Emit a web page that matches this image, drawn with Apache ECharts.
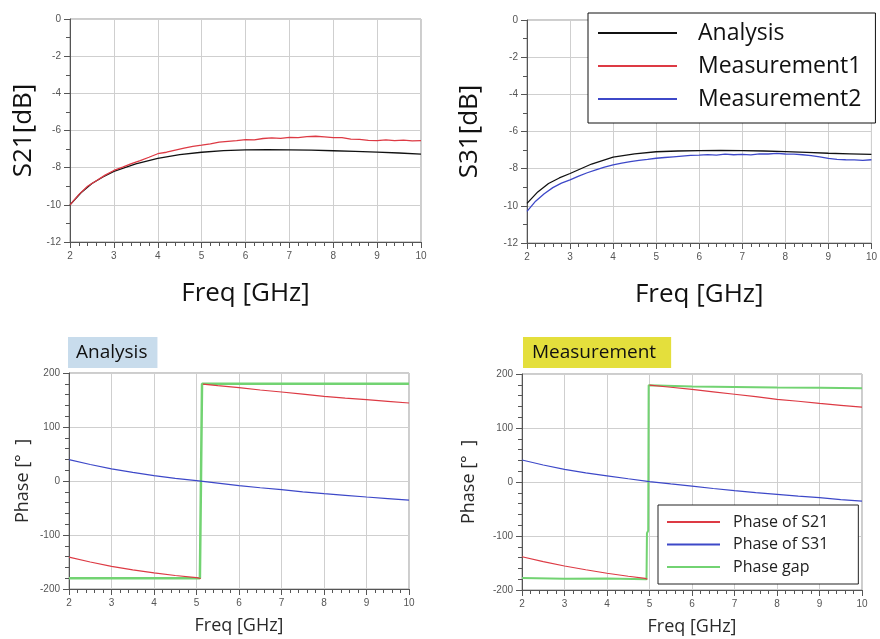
<!DOCTYPE html>
<html><head><meta charset="utf-8">
<script src="https://cdn.jsdelivr.net/npm/echarts@6.0.0/dist/echarts.min.js"></script>
<style>html,body{margin:0;padding:0;background:#fff}#c{width:880px;height:639px}</style>
</head><body><div id="c"></div>
<script>
// ---- data ----
const freqAna = [2,2.25,2.5,2.75,3,3.5,4,4.5,5,5.5,6,6.5,7,7.5,8,8.5,9,9.5,10];
const s21Analysis = [-10.0,-9.35,-8.85,-8.5,-8.2,-7.8,-7.5,-7.3,-7.17,-7.08,-7.04,-7.03,-7.04,-7.06,-7.09,-7.12,-7.16,-7.21,-7.27];
const s31Analysis = [-9.87,-9.25,-8.8,-8.5,-8.26,-7.75,-7.38,-7.2,-7.09,-7.05,-7.03,-7.02,-7.03,-7.05,-7.08,-7.12,-7.17,-7.2,-7.23];
const freqMeas = [2,2.2,2.4,2.6,2.8,3,3.2,3.4,3.6,3.8,4,4.2,4.4,4.6,4.8,5,5.2,5.4,5.6,5.8,6,6.2,6.4,6.6,6.8,7,7.2,7.4,7.6,7.8,8,8.2,8.4,8.6,8.8,9,9.2,9.4,9.6,9.8,10];
const s21Meas1 = [-10.0,-9.45,-9.0,-8.7,-8.4,-8.15,-7.97,-7.78,-7.62,-7.44,-7.25,-7.17,-7.05,-6.95,-6.85,-6.79,-6.72,-6.63,-6.58,-6.55,-6.49,-6.5,-6.43,-6.4,-6.42,-6.37,-6.38,-6.33,-6.31,-6.34,-6.38,-6.38,-6.46,-6.48,-6.53,-6.55,-6.5,-6.55,-6.52,-6.56,-6.55];
const s31Meas2 = [-10.3,-9.75,-9.35,-9.02,-8.78,-8.6,-8.4,-8.22,-8.06,-7.92,-7.8,-7.7,-7.62,-7.55,-7.5,-7.44,-7.4,-7.36,-7.32,-7.29,-7.27,-7.24,-7.27,-7.22,-7.25,-7.23,-7.26,-7.2,-7.21,-7.18,-7.21,-7.22,-7.25,-7.3,-7.37,-7.45,-7.5,-7.52,-7.53,-7.55,-7.52];

const freqPh = [2,2.5,3,3.5,4,4.5,5,5.5,6,6.5,7,7.5,8,8.5,9,9.5,10];
// Analysis phase
const anaS21Low = [[2,-141],[2.5,-150],[3,-158],[3.5,-164.5],[4,-170],[4.5,-175],[5,-179],[5.1,-180.5]];
const anaS21High = [[5.15,179.5],[5.5,176.5],[6,173],[6.5,168.5],[7,164.8],[7.5,160.8],[8,156.8],[8.5,153.5],[9,150.6],[9.5,147.5],[10,144.4]];
const anaS31 = [39.5,30.5,22.5,16,10,5,0.6,-4,-8.5,-12.5,-16,-20,-23.5,-26.5,-29.6,-32.5,-35.5];
const anaGap = [[2,-180],[5.08,-180],[5.13,180],[10,180]];
// Measurement phase
const measS21Low = [[2,-138.5],[2.5,-147.5],[3,-155.5],[3.5,-162.5],[4,-169],[4.5,-174.5],[4.9,-178.5],[4.95,-180]];
const measS21High = [[5.0,179.5],[5.5,175.5],[6,171.5],[6.5,167],[7,162.5],[7.5,158],[8,153],[8.5,149.5],[9,145.5],[9.5,142],[10,138.5]];
const measS31 = [40.7,31.5,23.5,17,11.5,6,0.8,-3.5,-7.5,-12,-16,-19.5,-22.8,-26,-29,-32.5,-35.5];
const measGap = [[2,-178],[3,-179],[4,-178.5],[4.93,-180],[4.94,-95],[4.97,-90],[4.98,179],[6,177],[7,176],[8,175],[9,174.5],[10,173.5]];

const topTicks = {min:-12, max:0, interval:2};
const phTicks = {min:-200, max:200, interval:100};

// ---- chart ----
const chart = echarts.init(document.getElementById('c'), null, {renderer:'canvas'});
const FONT = '"Open Sans", "Noto Sans", sans-serif';
const lbl = {color:'#555', fontSize:10, fontFamily:'"Liberation Sans", Arial, sans-serif'};
function xAx(gi, gap, nameSize, nameColor) {
  return {type:'value', gridIndex:gi, min:2, max:10, interval:1,
    name:'Freq [GHz]', nameLocation:'middle', nameGap:gap,
    nameTextStyle:{fontSize:nameSize, color:nameColor, fontFamily:FONT},
    axisLine:{show:true, onZero:false, lineStyle:{color:'#555'}},
    axisTick:{show:true, length:6, lineStyle:{color:'#555'}},
    minorTick:{show:true, splitNumber:5, length:4, lineStyle:{color:'#555', width:1}},
    axisLabel:{...lbl, margin:9},
    splitLine:{show:true, lineStyle:{color:'#cfcfcf'}}};
}
function yAx(gi, t, name, gap, nameSize, minorN, nameColor) {
  return {type:'value', gridIndex:gi, min:t.min, max:t.max, interval:t.interval,
    name:name, nameLocation:'middle', nameGap:gap, nameRotate:90,
    nameTextStyle:{fontSize:nameSize, color:nameColor, fontFamily:FONT},
    axisLine:{show:true, onZero:false, lineStyle:{color:'#555'}},
    axisTick:{show:true, length:6, lineStyle:{color:'#555'}},
    minorTick:{show:true, splitNumber:minorN, length:4, lineStyle:{color:'#555', width:1}},
    axisLabel:{...lbl, margin:9},
    splitLine:{show:true, lineStyle:{color:'#cfcfcf'}}};
}
const zip = (xs, ys) => xs.map((x,i)=>[x, ys[i]]);
function line(name, xi, data, color, w, z) {
  return {type:'line', name:name, xAxisIndex:xi, yAxisIndex:xi, data:data, showSymbol:false,
    symbol:'none', lineStyle:{color:color, width:w}, itemStyle:{color:color}, z:z||2, animation:false, silent:true};
}
const RED='#dd3a44', BLUE='#3d48c8', GREEN='#72d372', BLACK='#111';

const gridBase = {show:true, borderColor:'#9a9a9a', borderWidth:1, backgroundColor:'#fff'};
chart.setOption({
  animation:false,
  backgroundColor:'#fff',
  title:[
    {text:'Analysis', left:68, top:337, backgroundColor:'#c8dcec', padding:[6,10,6,8],
     textStyle:{fontSize:19, fontWeight:'normal', color:'#111', fontFamily:FONT}},
    {text:'Measurement', left:523, top:337, backgroundColor:'#e4df3c', padding:[6,15,6,9],
     textStyle:{fontSize:19, fontWeight:'normal', color:'#111', fontFamily:FONT}}
  ],
  grid:[
    {...gridBase, left:70, top:19, width:351, height:223},
    {...gridBase, left:527, top:20, width:350, height:223},
    {...gridBase, left:69, top:373, width:340, height:216},
    {...gridBase, left:522, top:374, width:340, height:216}
  ],
  xAxis:[xAx(0,39,26,'#111'), xAx(1,39,26,'#111'), xAx(2,28,18,'#2a2a2a'), xAx(3,28,18,'#2a2a2a')],
  yAxis:[yAx(0,topTicks,'S21[dB]',33,26,2,'#111'), yAx(1,topTicks,'S31[dB]',44,26,2,'#111'),
         yAx(2,phTicks,'Phase [°  ]',37,18,5,'#2a2a2a'), yAx(3,phTicks,'Phase [°  ]',44,18,5,'#2a2a2a')],
  legend:[
    {data:['Analysis','Measurement1','Measurement2'], orient:'vertical', left:588, top:13,
     backgroundColor:'#fff', borderColor:'#111', borderWidth:1, padding:[7,14,11,10],
     itemWidth:79, itemHeight:2, itemGap:7, icon:'rect', selectedMode:false,
     textStyle:{fontSize:23, color:'#111', fontFamily:FONT, lineHeight:26, padding:[0,0,0,16]}},
    {data:['Phase of S21','Phase of S31','Phase gap'], orient:'vertical', left:658, top:505,
     backgroundColor:'#fff', borderColor:'#222', borderWidth:1, padding:[7,30,7,9],
     itemWidth:53, itemHeight:2, itemGap:2.5, icon:'rect', selectedMode:false,
     textStyle:{fontSize:16, color:'#222', fontFamily:FONT, lineHeight:20, padding:[0,0,0,8]}}
  ],
  series:[
    line('Analysis',0,zip(freqAna,s21Analysis),BLACK,1.3,3),
    line('Measurement1',0,zip(freqMeas,s21Meas1),RED,1.3,4),
    line('Analysis',1,zip(freqAna,s31Analysis),BLACK,1.3,3),
    line('Measurement2',1,zip(freqMeas,s31Meas2),BLUE,1.3,4),
    line('Phase gap',2,anaGap,GREEN,2.5,2),
    line('Phase of S21',2,anaS21Low.concat([[5.12,null]],anaS21High),RED,1.2,3),
    line('Phase of S31',2,zip(freqPh,anaS31),BLUE,1.2,3),
    line('Phase gap',3,measGap,GREEN,2,2),
    line('Phase of S21',3,measS21Low.concat([[4.97,null]],measS21High),RED,1.2,3),
    line('Phase of S31',3,zip(freqPh,measS31),BLUE,1.2,3)
  ]
});
</script></body></html>
